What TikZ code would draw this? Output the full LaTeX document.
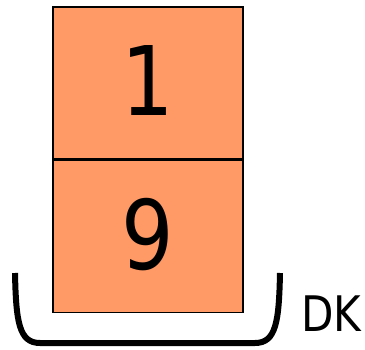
\documentclass[tikz,border=0pt]{standalone}
\usepackage{fontspec}
\setmainfont{DejaVu Sans}
\definecolor{cellfill}{RGB}{255,153,102}
\newcommand{\narrow}[1]{\scalebox{0.86}[1]{#1}}
\newcommand{\celltext}[1]{\raisebox{5pt}{\narrow{#1}}}
\begin{document}
\begin{tikzpicture}[x=1pt,y=-1pt,
  cell/.style={draw=black,line width=1.6pt,fill=cellfill,minimum width=190pt,minimum height=152pt,inner sep=0pt,font=\fontsize{96}{100}\selectfont,text depth=0pt},
  holder/.style={line width=6pt,line cap=butt}]
  \useasboundingbox (0,0) rectangle (365,349);
  % stacked cells
  \node[cell] (top) at (148,83) {\celltext{1}};
  \node[cell,anchor=north] (bottom) at (top.south) {\celltext{9}};
  % container bracket
  \coordinate (lt) at (15,273);
  \coordinate (rt) at (280,273);
  \draw[holder] (lt) .. controls (16,322) and (19,343) .. (40,343) -- (255,343) .. controls (276,343) and (279,322) .. (rt);
  \node[font=\fontsize{49}{52}\selectfont,anchor=base west,inner sep=0pt] (dk) at (301,331) {\narrow{DK}};
\end{tikzpicture}
\end{document}
